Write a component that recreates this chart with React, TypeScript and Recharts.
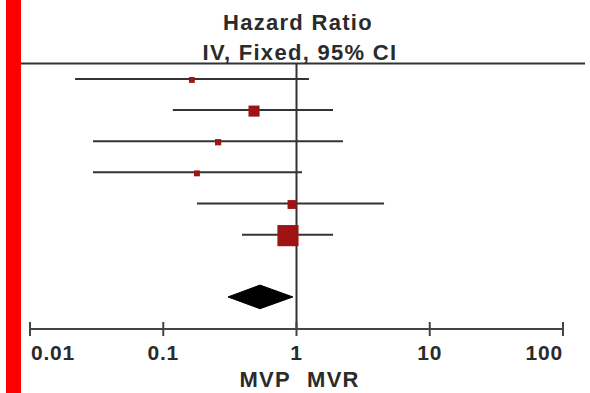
import { Area, ComposedChart, ErrorBar, ReferenceLine, Scatter, XAxis, YAxis } from "recharts"

const studyRows = [1, 2, 3, 4, 5, 6]
const hazardRatios = [0.164, 0.48, 0.258, 0.179, 0.925, 0.863]
const ciLower = [0.0218, 0.118, 0.0297, 0.0297, 0.179, 0.39]
const ciUpper = [1.24, 1.88, 2.23, 1.1, 4.54, 1.88]
const weights = [4.5, 16.2, 5.1, 4.6, 10.4, 59.2]

const pooledRow = 8
const pooledEstimate = 0.532
const pooledLower = 0.306
const pooledUpper = 0.94

const xTicks = [0.01, 0.1, 1, 10, 100]
const xTickLabels = ["0.01", "0.1", "1", "10", "100"]

const FONT = "'Liberation Sans', Arial, sans-serif"
const INK = "#2b2b2b"

const studies = studyRows.map((row, i) => ({
  row,
  hr: hazardRatios[i],
  err: [hazardRatios[i] - ciLower[i], ciUpper[i] - hazardRatios[i]],
  weight: weights[i],
}))

// diamond half height in row units
const diamondHalf = 0.38
const diamondData = [
  { hr: pooledLower, band: [pooledRow, pooledRow] },
  { hr: pooledEstimate, band: [pooledRow - diamondHalf, pooledRow + diamondHalf] },
  { hr: pooledUpper, band: [pooledRow, pooledRow] },
]

function WeightSquare(props: any) {
  const { cx, cy, payload } = props
  const side = Math.sqrt(payload.weight) * 2.75
  return <rect x={cx - side / 2} y={cy - side / 2 + 1} width={side} height={side} fill="#9e1414" />
}

function LogTick(props: any) {
  const { x, y, index } = props
  const last = index === xTicks.length - 1
  const anchor = index === 0 ? "start" : last ? "end" : "middle"
  return (
    <g>
      <line x1={x} y1={y - 15} x2={x} y2={y - 1} stroke="#444" strokeWidth={2} />
      <text
        x={x + (index === 0 ? 1 : 0)}
        y={y + 23}
        textAnchor={anchor}
        fill={INK}
        fontFamily={FONT}
        fontWeight="bold"
        fontSize={21}
        letterSpacing={0.8}
      >
        {xTickLabels[index]}
      </text>
    </g>
  )
}

export default function App() {
  return (
    <div style={{ position: "absolute", left: 0, top: 0, width: 590, height: 393, background: "#fff" }}>
      <div style={{ position: "absolute", left: 6, top: 0, width: 15, height: 393, background: "#ff0000" }} />
      <ComposedChart
        width={590}
        height={393}
        data={diamondData}
        margin={{ top: 64, right: 27, bottom: 0, left: 30 }}
      >
        <XAxis
          type="number"
          dataKey="hr"
          scale="log"
          domain={[0.01, 100]}
          ticks={xTicks}
          interval={0}
          allowDataOverflow
          height={64}
          tickSize={6}
          tickMargin={2}
          tickLine={false}
          axisLine={{ stroke: "#444", strokeWidth: 2 }}
          tick={<LogTick />}
        />
        <YAxis type="number" dataKey="row" domain={[0.52, 9.03]} reversed hide width={0} allowDataOverflow />
        <ReferenceLine x={1} stroke="#333" strokeWidth={2} />
        <Area
          dataKey="band"
          type="linear"
          fill="#000"
          fillOpacity={1}
          stroke="#000"
          dot={false}
          activeDot={false}
          isAnimationActive={false}
        />
        <Scatter data={studies} shape={<WeightSquare />} isAnimationActive={false}>
          <ErrorBar dataKey="err" direction="x" width={0} stroke="#333" strokeWidth={2} />
        </Scatter>
      </ComposedChart>
      <svg
        width={590}
        height={393}
        style={{ position: "absolute", left: 0, top: 0, pointerEvents: "none" }}
      >
        <line x1={21} y1={63.5} x2={585} y2={63.5} stroke="#333" strokeWidth={2} />
        <g fontFamily={FONT} fontWeight="bold" fontSize={22} fill={INK} letterSpacing={1.3}>
          <text x={298} y={30} textAnchor="middle">Hazard Ratio</text>
          <text x={300} y={60} textAnchor="middle">IV, Fixed, 95% CI</text>
          <text x={291} y={387} textAnchor="end">MVP</text>
          <text x={307} y={387} textAnchor="start">MVR</text>
        </g>
      </svg>
    </div>
  )
}
